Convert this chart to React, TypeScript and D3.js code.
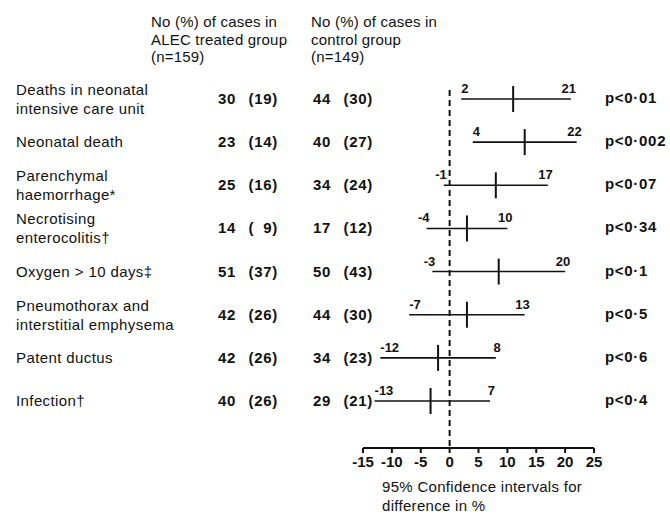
import React from 'react';
import * as d3 from 'd3';

// outcome labels (one entry per line of text)
const outcomes = [
  ['Deaths in neonatal', 'intensive care unit'],
  ['Neonatal death'],
  ['Parenchymal', 'haemorrhage*'],
  ['Necrotising', 'enterocolitis†'],
  ['Oxygen > 10 days‡'],
  ['Pneumothorax and', 'interstitial emphysema'],
  ['Patent ductus'],
  ['Infection†'],
];
const alecCount = [30, 23, 25, 14, 51, 42, 42, 40];
const alecPct = [19, 14, 16, 9, 37, 26, 26, 26];
const controlCount = [44, 40, 34, 17, 50, 44, 34, 29];
const controlPct = [30, 27, 24, 12, 43, 30, 23, 21];
const ciLow = [2, 4, -1, -4, -3, -7, -12, -13];
const ciHigh = [21, 22, 17, 10, 20, 13, 8, 7];
const estimate = [11, 13, 8, 3, 8.5, 3, -2, -3.3];
const pValues = ['p<0·01', 'p<0·002', 'p<0·07', 'p<0·34', 'p<0·1', 'p<0·5', 'p<0·6', 'p<0·4'];
const axisTicks = [-15, -10, -5, 0, 5, 10, 15, 20, 25];

const width = 670;
const height = 519;
const font = '"Liberation Sans", Arial, Helvetica, sans-serif';

export default function App() {
  const x = d3.scaleLinear().domain([-15, 25]).range([363, 594]);
  const y = d3.scalePoint<number>()
    .domain(d3.range(outcomes.length))
    .range([99, 401]);
  const axisY = 448;
  const pad = (v: number) => (v < 10 ? '\u2007' + v : String(v));

  return (
    <svg width={width} height={height} style={{ position: 'absolute', left: 0, top: 0, background: '#fff' }}
      fontFamily={font} fill="#111">
      {/* column headers */}
      <g fontSize={15} letterSpacing={0.2}>
        {['No (%) of cases in', 'ALEC treated group', '(n=159)'].map((t, i) => (
          <text key={'a' + i} x={151} y={27 + i * 17.5}>{t}</text>
        ))}
        {['No (%) of cases in', 'control group', '(n=149)'].map((t, i) => (
          <text key={'c' + i} x={311} y={27 + i * 17.5}>{t}</text>
        ))}
      </g>

      {/* rows */}
      {outcomes.map((lines, i) => {
        const ry = y(i)!;
        const nb = ry + 5;
        const lowLabelEnd = ciLow[i] < 0 && ciLow[i] > -5;
        return (
          <g key={i}>
            <g fontSize={15} letterSpacing={0.4}>
              {lines.map((t, j) => (
                <text key={j} x={16}
                  y={lines.length === 1 ? nb : nb - 9 + j * 19}>{t}</text>
              ))}
            </g>
            <g fontSize={15} fontWeight="bold" letterSpacing={0.7}>
              <text x={236} y={nb} textAnchor="end">{alecCount[i]}</text>
              <text x={278} y={nb} textAnchor="end" style={{ whiteSpace: 'pre' }}>{'(' + pad(alecPct[i]) + ')'}</text>
              <text x={331} y={nb} textAnchor="end">{controlCount[i]}</text>
              <text x={373} y={nb} textAnchor="end">{'(' + controlPct[i] + ')'}</text>
              <text x={605} y={ry + 4}>{pValues[i]}</text>
            </g>
            <line x1={x(ciLow[i])} x2={x(ciHigh[i])} y1={ry} y2={ry} stroke="#111" strokeWidth={1.6} />
            <line x1={x(estimate[i])} x2={x(estimate[i])} y1={ry - 13} y2={ry + 13} stroke="#111" strokeWidth={2} />
            <g fontSize={13} fontWeight="bold">
              <text x={lowLabelEnd ? x(ciLow[i]) + 3 : x(ciLow[i])} y={ry - 6}
                textAnchor={lowLabelEnd ? 'end' : 'start'}>{ciLow[i]}</text>
              <text x={x(ciHigh[i]) + 5} y={ry - 6} textAnchor="end">{ciHigh[i]}</text>
            </g>
          </g>
        );
      })}

      {/* zero line */}
      <line x1={x(0)} x2={x(0)} y1={90} y2={axisY} stroke="#111" strokeWidth={2} strokeDasharray="6,4" />

      {/* axis */}
      <line x1={x(-15)} x2={x(25)} y1={axisY} y2={axisY} stroke="#111" strokeWidth={2} />
      {axisTicks.map((t) => (
        <g key={t}>
          <line x1={x(t)} x2={x(t)} y1={axisY} y2={axisY + 5} stroke="#111" strokeWidth={2} />
          <text x={x(t)} y={axisY + 19} textAnchor="middle" fontSize={15} fontWeight="bold">{t}</text>
        </g>
      ))}
      <g fontSize={15} letterSpacing={0.3}>
        <text x={382} y={492}>95% Confidence intervals for</text>
        <text x={382} y={511}>difference in %</text>
      </g>
    </svg>
  );
}
